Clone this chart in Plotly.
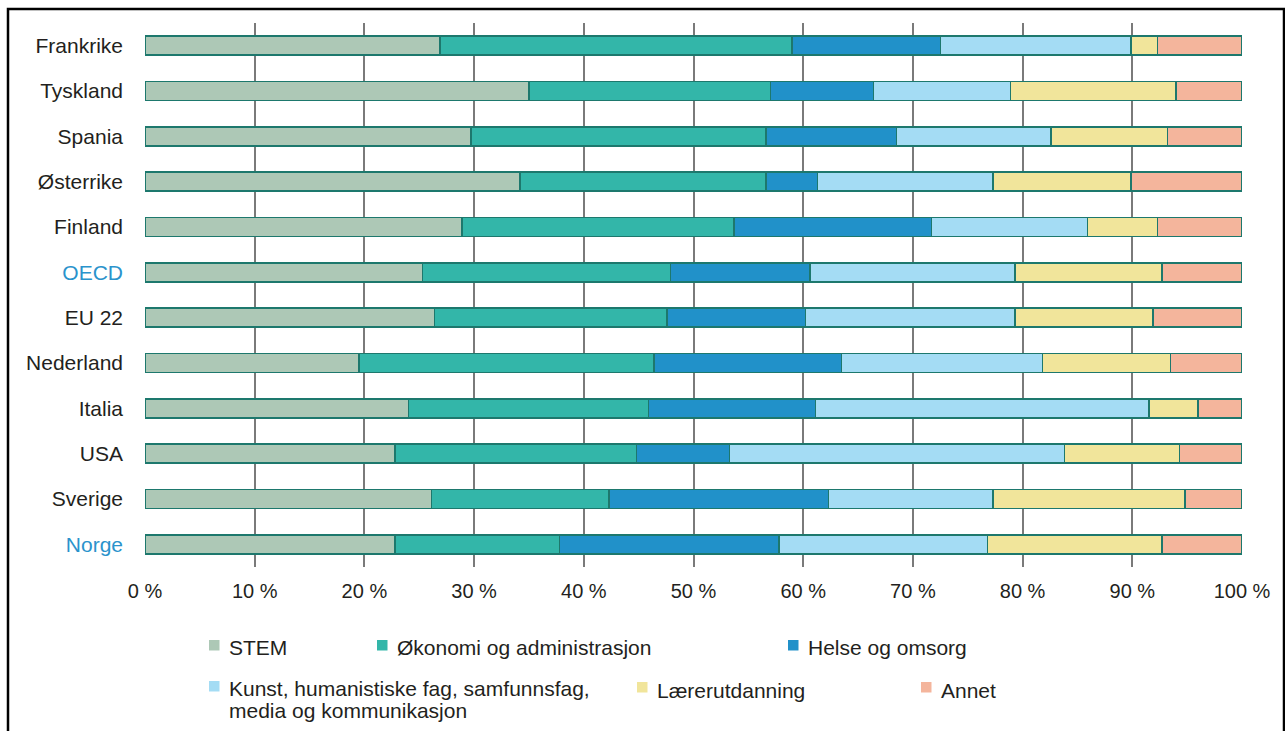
import plotly.graph_objects as go

# Share of graduates by field of study, per country (percent, stacked to 100)
countries = ["Frankrike", "Tyskland", "Spania", "Østerrike", "Finland", "OECD",
             "EU 22", "Nederland", "Italia", "USA", "Sverige", "Norge"]

series_names = ["STEM", "Økonomi og administrasjon", "Helse og omsorg",
                "Kunst, humanistiske fag, samfunnsfag,<br>media og kommunikasjon",
                "Lærerutdanning", "Annet"]

stem       = [26.9, 35.0, 29.7, 34.2, 28.9, 25.3, 26.4, 19.5, 24.0, 22.8, 26.1, 22.8]
okonomi    = [32.1, 22.0, 26.9, 22.4, 24.8, 22.6, 21.2, 26.9, 21.9, 22.0, 16.2, 15.0]
helse      = [13.5,  9.4, 11.9,  4.7, 18.0, 12.7, 12.6, 17.1, 15.2,  8.5, 20.0, 20.0]
kunst      = [17.4, 12.5, 14.1, 16.0, 14.2, 18.7, 19.1, 18.3, 30.4, 30.5, 15.0, 19.0]
laerer     = [ 2.4, 15.1, 10.6, 12.6,  6.4, 13.4, 12.6, 11.7,  4.5, 10.5, 17.5, 15.9]
annet      = [ 7.7,  6.0,  6.8, 10.1,  7.7,  7.3,  8.1,  6.5,  4.0,  5.7,  5.2,  7.3]

x_ticks = [0, 10, 20, 30, 40, 50, 60, 70, 80, 90, 100]
x_tick_labels = [f"{v} %" for v in x_ticks]

highlighted = ["OECD", "Norge"]

colors = ["#adc8b6", "#33b6a9", "#2191c9", "#a4dcf4", "#f1e59b", "#f4b59c"]
outline = "#1d786d"
text_color = "#231f20"
highlight_color = "#2a93cc"

values = [stem, okonomi, helse, kunst, laerer, annet]

fig = go.Figure()
for name, vals, col in zip(series_names, values, colors):
    fig.add_trace(go.Bar(
        y=countries, x=vals, name=name, orientation="h",
        marker=dict(color=col, line=dict(color=outline, width=1.5)),
        width=0.42, showlegend=False,
    ))

# Page geometry in pixels
W, H = 1285, 731
L, R, T, B = 145, 43, 23, 164
pw, ph = W - L - R, H - T - B


def px_x(x):
    return (x - L) / pw


def px_y(y):
    return (H - B - y) / ph


ticktext = [f'<span style="color:{highlight_color}">{c}</span>' if c in highlighted else c
            for c in countries]

fig.update_layout(
    width=W, height=H,
    margin=dict(l=L, r=R, t=T, b=B),
    barmode="stack",
    plot_bgcolor="white", paper_bgcolor="white",
    font=dict(family="Liberation Sans, Arial, sans-serif", size=21, color=text_color),
    xaxis=dict(range=[0, 100], tickvals=x_ticks, ticktext=x_tick_labels,
               tickfont=dict(size=20),
               showgrid=True, gridcolor="#7a7a7a", gridwidth=1.5,
               zeroline=False, showline=False, ticks="", ticklabelstandoff=10,
               fixedrange=True),
    yaxis=dict(categoryorder="array", categoryarray=countries, autorange="reversed",
               tickvals=countries, ticktext=ticktext, tickfont=dict(size=21),
               showgrid=False, zeroline=False, showline=False, ticks="",
               ticklabelstandoff=21, fixedrange=True),
)

shapes = []
# outer frame
shapes.append(dict(type="rect", xref="paper", yref="paper",
                   x0=px_x(8), x1=px_x(1284), y0=px_y(760), y1=px_y(9),
                   line=dict(color="black", width=2.5), fillcolor="rgba(0,0,0,0)",
                   layer="above"))

# legend: square marker (left, top) and text centre line per entry
legend_square = [(209, 640), (377, 640), (788, 640), (209, 681), (637, 682), (921, 682)]
legend_text_y = [647, 647, 647, 688, 690, 690]
line_gap = 22
annotations = []
for (sx, sy), ty, name, col in zip(legend_square, legend_text_y, series_names, colors):
    shapes.append(dict(type="rect", xref="paper", yref="paper",
                       x0=px_x(sx), x1=px_x(sx + 10.5), y0=px_y(sy + 10.5), y1=px_y(sy),
                       line=dict(width=0), fillcolor=col))
    for i, line in enumerate(name.split("<br>")):
        annotations.append(dict(xref="paper", yref="paper", x=px_x(sx + 18),
                                y=px_y(ty + i * line_gap),
                                text=line, showarrow=False, xanchor="left",
                                yanchor="middle", align="left",
                                font=dict(size=21, color=text_color)))

fig.update_layout(shapes=shapes, annotations=annotations)

fig.write_html("out.html")
